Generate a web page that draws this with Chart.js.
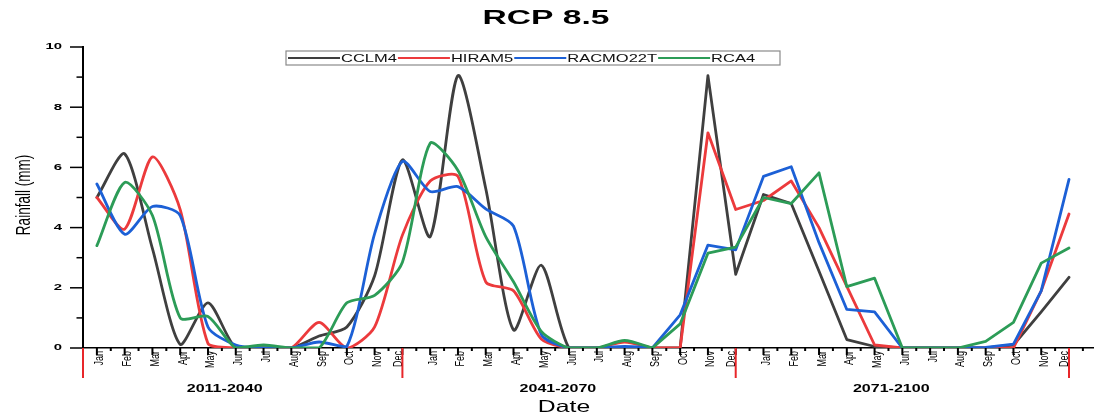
<!DOCTYPE html>
<html><head><meta charset="utf-8">
<script src="https://cdn.jsdelivr.net/npm/chart.js@4.4.0/dist/chart.umd.min.js"></script>
<style>html,body{margin:0;padding:0;background:#fff;overflow:hidden}canvas{display:block}</style>
</head><body>
<canvas id="c" width="1094" height="419"></canvas>
<script>
const months = ['Jan','Feb','Mar','Apr','May','Jun','Jul','Aug','Sep','Oct','Nov','Dec'];
const periods = ['2011-2040','2041-2070','2071-2100'];
const categories = periods.flatMap(() => months);
const seriesNames = ['CCLM4','HIRAM5','RACMO22T','RCA4'];
const seriesColors = ['#3f3f3f','#ec3a3c','#1c60d6','#2c9c57'];
const cclm4 = [5.0, 6.45, 3.3, 0.12, 1.5, 0.0, 0.0, 0.0, 0.4, 0.7, 2.4, 6.25,
               3.7, 9.05, 5.3, 0.6, 2.75, 0.0, 0.0, 0.0, 0.0, 0.0, 9.05, 2.45,
               5.1, 4.8, 2.55, 0.28, 0.05, 0.0, 0.0, 0.0, 0.0, 0.1, 1.2, 2.35];
const hiram5 = [5.0, 3.95, 6.35, 4.6, 0.15, 0.0, 0.0, 0.0, 0.85, 0.0, 0.7, 3.75,
                5.55, 5.7, 2.2, 1.9, 0.3, 0.0, 0.0, 0.2, 0.0, 0.0, 7.15, 4.6,
                4.9, 5.55, 4.0, 2.05, 0.1, 0.0, 0.0, 0.0, 0.0, 0.0, 1.9, 4.45];
const racmo22t = [5.45, 3.78, 4.7, 4.4, 0.7, 0.1, 0.0, 0.0, 0.2, 0.05, 3.8, 6.2,
                  5.2, 5.36, 4.62, 4.05, 0.45, 0.0, 0.0, 0.05, 0.0, 1.1, 3.42, 3.26,
                  5.7, 6.02, 3.5, 1.28, 1.2, 0.0, 0.0, 0.0, 0.02, 0.13, 1.9, 5.6];
const rca4 = [3.4, 5.5, 4.4, 1.0, 1.05, 0.0, 0.1, 0.0, 0.0, 1.5, 1.75, 2.85,
              6.8, 5.9, 3.7, 2.2, 0.55, 0.0, 0.0, 0.25, 0.0, 0.8, 3.15, 3.35,
              5.0, 4.8, 5.82, 2.04, 2.32, 0.0, 0.0, 0.0, 0.22, 0.85, 2.82, 3.32];
const yTicks = [0, 2, 4, 6, 8, 10];
const chartTitle = 'RCP 8.5';
const xTitle = 'Date';
const yTitle = 'Rainfall (mm)';

const seriesValues = [cclm4, hiram5, racmo22t, rca4];
const SPLIT = 20; // smooth part before, straight segments after
const FONT = '"Liberation Sans", Arial, sans-serif';

const datasets = [];
seriesValues.forEach((vals, s) => {
  const smooth = vals.map((v, i) => ({x: i, y: v})).filter(p => p.x <= SPLIT);
  const straight = vals.map((v, i) => ({x: i, y: v})).filter(p => p.x >= SPLIT);
  const base = {borderColor: seriesColors[s], backgroundColor: seriesColors[s], borderWidth: 2.8,
    pointRadius: 0, fill: false, order: 10 - s, borderCapStyle: 'round', borderJoinStyle: 'round'};
  datasets.push(Object.assign({label: seriesNames[s], data: smooth, tension: 0.25, main: true}, base));
  datasets.push(Object.assign({label: seriesNames[s] + '_b', data: straight, tension: 0}, base));
});

function txt(ctx, text, x, y, o) {
  ctx.save();
  ctx.translate(x, y);
  ctx.scale(o.sx || 1, 1);
  if (o.rot) ctx.rotate(o.rot);
  ctx.font = o.font;
  ctx.fillStyle = o.color || '#000';
  ctx.textAlign = o.align || 'center';
  ctx.textBaseline = o.baseline || 'middle';
  ctx.fillText(text, 0, 0);
  ctx.restore();
}

const decor = {
  id: 'decor',
  afterDraw(chart) {
    const ctx = chart.ctx, xs = chart.scales.x, ys = chart.scales.y, ca = chart.chartArea;
    ctx.save();
    ctx.strokeStyle = '#000';
    // y ticks
    for (let v = 0; v <= 10; v++) {
      const py = ys.getPixelForValue(v);
      const major = v % 2 === 0;
      ctx.lineWidth = 1.5;
      ctx.beginPath(); ctx.moveTo(ca.left - (major ? 13 : 6.5), py); ctx.lineTo(ca.left, py); ctx.stroke();
    }
    yTicks.forEach(v => {
      txt(ctx, String(v), 62, ys.getPixelForValue(v), {font: 'bold 8.5px ' + FONT, sx: 1.75, align: 'right'});
    });
    // x ticks
    ctx.lineWidth = 2;
    categories.forEach((c, i) => {
      const px = xs.getPixelForValue(i);
      ctx.beginPath(); ctx.moveTo(px, ca.bottom); ctx.lineTo(px, ca.bottom + 7); ctx.stroke();
      const mx = xs.getPixelForValue(i + 0.5);
      if (mx < ca.right) { ctx.beginPath(); ctx.moveTo(mx, ca.bottom); ctx.lineTo(mx, ca.bottom + 3); ctx.stroke(); }
      txt(ctx, c, px + (c === 'Dec' ? -4 : 3), ca.bottom + 3, {font: '9px ' + FONT, sx: 1.4, rot: -Math.PI / 2, align: 'right'});
    });
    // red period separators
    ctx.strokeStyle = '#e8262a'; ctx.lineWidth = 2;
    [-0.5].concat(periods.map((p, k) => k * 12 + 11)).forEach(v => {
      const px = xs.getPixelForValue(v);
      ctx.beginPath(); ctx.moveTo(px, ca.bottom); ctx.lineTo(px, ca.bottom + 30); ctx.stroke();
    });
    // period labels
    periods.forEach((p, k) => {
      txt(ctx, p, xs.getPixelForValue(k * 12 + 4.6), 389, {font: 'bold 10.7px ' + FONT, sx: 1.5});
    });
    // titles
    txt(ctx, chartTitle, 546, 18, {font: 'bold 21px ' + FONT, sx: 1.6});
    txt(ctx, xTitle, 564, 407.5, {font: '16.5px ' + FONT, sx: 1.5});
    txt(ctx, yTitle, 24, 195, {font: '13.5px ' + FONT, sx: 1.5, rot: -Math.PI / 2});
    // legend
    const lx0 = 286, lx1 = 780, ly0 = 51, ly1 = 65, lyc = 58;
    ctx.fillStyle = '#fff'; ctx.fillRect(lx0, ly0, lx1 - lx0, ly1 - ly0);
    ctx.strokeStyle = '#8a8a8a'; ctx.lineWidth = 1.2; ctx.strokeRect(lx0, ly0, lx1 - lx0, ly1 - ly0);
    let x = lx0 + 2;
    const items = chart.data.datasets.filter(d => d.main);
    items.forEach(d => {
      ctx.strokeStyle = d.borderColor; ctx.lineWidth = 2;
      ctx.beginPath(); ctx.moveTo(x, lyc); ctx.lineTo(x + 52, lyc); ctx.stroke();
      x += 53;
      ctx.font = '11px ' + FONT;
      const w = ctx.measureText(d.label).width * 1.5;
      txt(ctx, d.label, x, lyc + 0.5, {font: '11px ' + FONT, sx: 1.5, align: 'left', color: '#111'});
      x += w + 1;
    });
    ctx.restore();
  }
};

new Chart(document.getElementById('c'), {
  type: 'line',
  data: {datasets},
  options: {
    responsive: false, devicePixelRatio: 1, animation: false,
    layout: {padding: {top: 47, left: 0, right: 0, bottom: 0}},
    plugins: {legend: {display: false}, tooltip: {enabled: false}},
    scales: {
      x: {type: 'linear', min: -0.5, max: 35.9, ticks: {display: false}, grid: {display: false},
          border: {display: true, color: '#000', width: 1.5},
          afterFit(s) { s.height = 71; }},
      y: {min: 0, max: 10, ticks: {display: false}, grid: {display: false},
          border: {display: true, color: '#000', width: 2},
          afterFit(s) { s.width = 83; }}
    }
  },
  plugins: [decor]
});
</script>
</body></html>
